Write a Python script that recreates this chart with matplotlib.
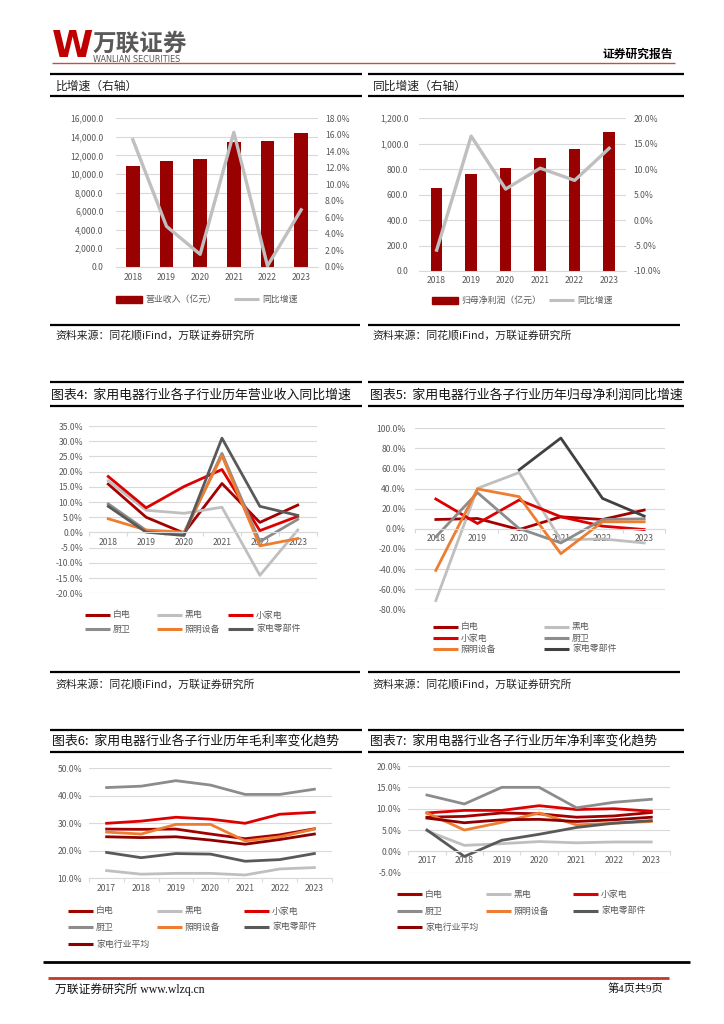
import numpy as np
import matplotlib
matplotlib.use('Agg')
import matplotlib.pyplot as plt
from matplotlib.lines import Line2D
from matplotlib.patches import Rectangle
from matplotlib.ticker import FuncFormatter

plt.rcParams['font.family'] = ['Noto Sans CJK SC', 'DejaVu Sans']

# ---- data ----
years_a = ['2018', '2019', '2020', '2021', '2022', '2023']
years_b = ['2017', '2018', '2019', '2020', '2021', '2022', '2023']

revenue = [10850, 11400, 11610, 13480, 13500, 14420]          # 营业收入（亿元）
revenue_yoy = [15.4, 4.9, 1.5, 16.3, 0.1, 6.9]                 # 同比增速 %
profit = [652, 762, 810, 891, 959, 1095]                       # 归母净利润（亿元）
profit_yoy = [-5.9, 16.5, 6.1, 10.2, 7.8, 14.1]

sub_names = ['白电', '黑电', '小家电', '厨卫', '照明设备', '家电零部件']
avg_name = '家电行业平均'

rev_growth = [
    [15.9, 5.0, -0.2, 16.1, 3.3, 9.0],
    [17.0, 7.3, 6.3, 8.3, -14.1, 0.8],
    [18.4, 8.1, 15.1, 20.7, 0.6, 5.3],
    [9.4, 0.7, -0.6, 26.0, -3.0, 4.3],
    [4.5, 0.8, 0.1, 25.2, -4.4, -2.0],
    [8.6, 0.1, -1.0, 31.0, 8.6, 5.6],
]
np_growth = [
    [9.3, 10.3, -0.7, 12.0, 9.3, 18.7],
    [-71.3, 40.3, 56.0, -11.0, -10.0, -14.0],
    [29.7, 5.3, 28.7, 12.0, 2.7, -0.7],
    [-8.0, 36.0, 0.3, -14.0, 9.3, 10.0],
    [-41.3, 39.7, 32.0, -24.7, 7.0, 7.0],
    [np.nan, np.nan, 58.7, 90.3, 30.3, 12.7],
]
gross_margin = [
    [27.9, 27.8, 27.9, 26.1, 24.4, 25.8, 28.0],
    [12.8, 11.5, 11.8, 11.8, 11.2, 13.4, 13.9],
    [30.0, 30.8, 32.2, 31.5, 30.0, 33.3, 34.0],
    [43.0, 43.5, 45.5, 43.9, 40.5, 40.5, 42.4],
    [26.8, 26.1, 29.6, 29.6, 23.6, 25.1, 27.9],
    [19.4, 17.5, 19.0, 18.8, 16.2, 16.8, 19.0],
]
gross_margin_avg = [25.1, 24.8, 25.1, 23.9, 22.4, 24.1, 26.1]
net_margin = [
    [8.0, 8.2, 9.0, 8.8, 8.0, 8.3, 9.1],
    [4.8, 1.4, 1.8, 2.3, 2.0, 2.2, 2.2],
    [9.0, 9.6, 9.6, 10.7, 9.8, 10.0, 9.4],
    [13.2, 11.1, 15.0, 15.0, 10.2, 11.5, 12.2],
    [9.0, 5.0, 6.8, 9.0, 6.2, 6.6, 7.0],
    [5.0, -1.2, 2.6, 4.0, 5.6, 6.6, 7.2],
]
net_margin_avg = [7.8, 6.7, 7.4, 7.5, 7.0, 7.4, 8.0]

# ---- style ----
BAR_RED = '#990000'
YOY_GRAY = '#BFBFBF'
GRID = '#D9D9D9'
TXT = '#595959'
sub_colors = ['#A50000', '#BFBFBF', '#DD0000', '#8C8C8C', '#ED7D31', '#595959']
avg_color = '#8E0000'

W, H = 724, 1024
fig = plt.figure(figsize=(W / 100, H / 100), dpi=100)


def fx(x):
    return x / W


def fy(y):
    return 1 - y / H


def box(x0, y0, x1, y1):
    return [fx(x0), fy(y1), (x1 - x0) / W, (y1 - y0) / H]


def hline(x0, x1, y, color='black', lw=1.6):
    fig.add_artist(Line2D([fx(x0), fx(x1)], [fy(y), fy(y)], color=color, lw=lw,
                          transform=fig.transFigure, solid_capstyle='butt'))


def text(x, y, s, **kw):
    kw.setdefault('va', 'center')
    fig.text(fx(x), fy(y), s, **kw)


def legend_entry(x0, y, label, color, bar=False):
    if bar:
        fig.add_artist(Rectangle((fx(x0), fy(y + 3.5)), 26 / W, 7 / H, color=color,
                                 transform=fig.transFigure))
        text(x0 + 29, y, label, fontsize=6.4, color=TXT)
    else:
        hline(x0, x0 + 25, y, color=color, lw=2.2)
        text(x0 + 28, y, label, fontsize=6.4, color=TXT)


def pct(v, p):
    return f'{v:.1f}%'


def bar_chart(rect, cats, bars, yoy, ymax, ystep, rlim, rstep, bar_w, lpad, rpad, xpad):
    ax = fig.add_axes(rect)
    x = np.arange(len(cats))
    ax.bar(x, bars, width=bar_w, color=BAR_RED, zorder=2)
    ax.set_xlim(-0.5, len(cats) - 0.5)
    ax.set_ylim(0, ymax)
    ax.set_yticks(np.arange(0, ymax + 1, ystep))
    ax.yaxis.set_major_formatter(FuncFormatter(lambda v, p: f'{v:,.1f}'))
    ax.set_xticks(x, cats)
    ax.grid(axis='y', color=GRID, lw=0.8)
    ax.set_axisbelow(True)
    for s in ['top', 'left', 'right']:
        ax.spines[s].set_visible(False)
    ax.spines['bottom'].set_color(GRID)
    ax.tick_params(axis='y', length=0, pad=lpad, labelsize=6.2, labelcolor=TXT)
    ax.tick_params(axis='x', length=0, pad=xpad, labelsize=6.2, labelcolor=TXT)
    ax2 = ax.twinx()
    ax2.plot(x, yoy, color=YOY_GRAY, lw=2.4)
    ax2.set_ylim(*rlim)
    ax2.set_yticks(np.arange(rlim[0], rlim[1] + 0.01, rstep))
    ax2.yaxis.set_major_formatter(FuncFormatter(pct))
    for s in ax2.spines.values():
        s.set_visible(False)
    ax2.tick_params(axis='y', length=0, pad=rpad, labelsize=6.2, labelcolor=TXT)
    return ax


def line_chart(rect, cats, series, colors, ylim, ystep, zero, lpad, xpad):
    ax = fig.add_axes(rect)
    x = np.arange(len(cats))
    for vals, c in zip(series, colors):
        ax.plot(x, vals, color=c, lw=2.0)
    ax.set_xlim(-0.5, len(cats) - 0.5)
    ax.set_ylim(*ylim)
    ax.set_yticks(np.arange(ylim[0], ylim[1] + 0.01, ystep))
    ax.yaxis.set_major_formatter(FuncFormatter(pct))
    ax.set_xticks(x, cats)
    ax.set_xticks(np.arange(-0.5, len(cats)), minor=True)
    ax.grid(axis='y', color=GRID, lw=0.8)
    ax.set_axisbelow(True)
    for s in ['top', 'left', 'right']:
        ax.spines[s].set_visible(False)
    ax.spines['bottom'].set_color(GRID)
    ax.spines['bottom'].set_position(('data', zero))
    ax.tick_params(axis='y', length=0, pad=lpad, labelsize=6.2, labelcolor=TXT)
    ax.tick_params(axis='x', which='major', length=0, pad=xpad, labelsize=6.2, labelcolor=TXT)
    ax.tick_params(axis='x', which='minor', length=3, width=0.8, color=GRID)
    return ax


# ---- page header ----
text(52, 47, 'W', fontsize=27, fontweight='bold', color='#C00000', family='DejaVu Sans')
text(93, 44, '万联证券', fontsize=17, fontweight='bold', color=TXT)
text(93, 59, 'WANLIAN SECURITIES', fontsize=5.9, color=TXT, family='DejaVu Sans')
text(673, 54, '证券研究报告', fontsize=8.5, fontweight='bold', color='black', ha='right')
hline(52, 675, 62.5, color='#C0504D', lw=1.0)

# top frame (continuation of previous charts)
hline(50, 362, 74)
hline(368, 684, 74)
text(56, 86, '比增速（右轴）', fontsize=8.5, color='#222222')
text(373, 86, '同比增速（右轴）', fontsize=8.5, color='#222222')
hline(50, 362, 96)
hline(368, 684, 96)

# ---- chart 2: revenue ----
bar_chart(box(116, 118.3, 318, 266.7), years_a, revenue, revenue_yoy,
          16000, 2000, (0, 18), 2, 0.4, 9, 5, 4.5)
legend_entry(116, 299, '营业收入（亿元）', BAR_RED, bar=True)
legend_entry(234, 299, '同比增速', YOY_GRAY)

# ---- chart 3: net profit ----
bar_chart(box(419.4, 118.3, 626.4, 271), years_a, profit, profit_yoy,
          1200, 200, (-10, 20), 5, 0.33, 8, 5, 3.5)
legend_entry(432, 300, '归母净利润（亿元）', BAR_RED, bar=True)
legend_entry(549, 300, '同比增速', YOY_GRAY)

hline(50, 360, 325)
hline(368, 680, 325)
src = '资料来源：同花顺iFind，万联证券研究所'
text(55, 335, src, fontsize=7.8, style='italic', color='#222222')
text(372, 335, src, fontsize=7.8, style='italic', color='#222222')

# ---- chart 4 ----
hline(50, 362, 382)
hline(368, 684, 382)
text(51, 395, '图表4:  家用电器行业各子行业历年营业收入同比增速', fontsize=9.3, color='#111111')
text(370, 395, '图表5:  家用电器行业各子行业历年归母净利润同比增速', fontsize=9.3, color='#111111')
hline(50, 362, 406)
hline(368, 684, 406)

line_chart(box(89.3, 426, 316.7, 593.3), years_a, rev_growth, sub_colors,
           (-20, 35), 5, 0, 4.5, 4)
pos4 = [(85, 615), (157, 615), (228, 615), (85, 629), (157, 629), (228, 629)]
for (lx, ly), name, c in zip(pos4, sub_names, sub_colors):
    legend_entry(lx, ly, name, c)

# ---- chart 5 ----
c5 = sub_colors[:5] + ['#404040']
line_chart(box(415, 428.3, 665, 609.3), years_a, np_growth, c5,
           (-80, 100), 20, 0, 6.5, 3.5)
pos5 = [(433, 627), (544, 627), (433, 638), (544, 638), (433, 649), (544, 649)]
for (lx, ly), name, c in zip(pos5, sub_names, c5):
    legend_entry(lx, ly, name, c)

hline(50, 360, 672)
hline(368, 680, 672)
text(55, 684, src, fontsize=7.8, style='italic', color='#222222')
text(372, 684, src, fontsize=7.8, style='italic', color='#222222')

# ---- chart 6 ----
hline(50, 362, 730)
hline(368, 684, 730)
text(52, 741, '图表6:  家用电器行业各子行业历年毛利率变化趋势', fontsize=9.3, color='#111111')
text(370, 741, '图表7:  家用电器行业各子行业历年净利率变化趋势', fontsize=9.3, color='#111111')
hline(50, 362, 752)
hline(368, 684, 752)

line_chart(box(89.3, 768.3, 331.7, 878.3), years_b, gross_margin + [gross_margin_avg],
           sub_colors + [avg_color], (10, 50), 10, 10, 5, 4)
pos6 = [(68, 911), (157, 911), (244, 911), (68, 927), (157, 927), (244, 927), (68, 944)]
for (lx, ly), name, c in zip(pos6, sub_names + [avg_name], sub_colors + [avg_color]):
    legend_entry(lx, ly, name, c)

# ---- chart 7 ----
line_chart(box(408.3, 766, 670, 872.7), years_b, net_margin + [net_margin_avg],
           sub_colors + [avg_color], (-5, 20), 5, 0, 5, 3.5)
pos7 = [(397, 894), (486, 894), (573, 894), (397, 911), (486, 911), (573, 911), (397, 927)]
for (lx, ly), name, c in zip(pos7, sub_names + [avg_name], sub_colors + [avg_color]):
    legend_entry(lx, ly, name, c)

# ---- footer ----
hline(43, 690, 962, lw=2.0)
hline(48, 669, 978, color='#C0392B', lw=2.0)
text(55, 989, '万联证券研究所 www.wlzq.cn', fontsize=8.5, color='#111111',
     family=['Liberation Serif', 'Noto Sans CJK SC'])
text(663, 989, '第4页共9页', fontsize=8, color='#111111', ha='right',
     family=['Liberation Serif', 'Noto Sans CJK SC'])

fig.savefig('out.png', dpi=100)
